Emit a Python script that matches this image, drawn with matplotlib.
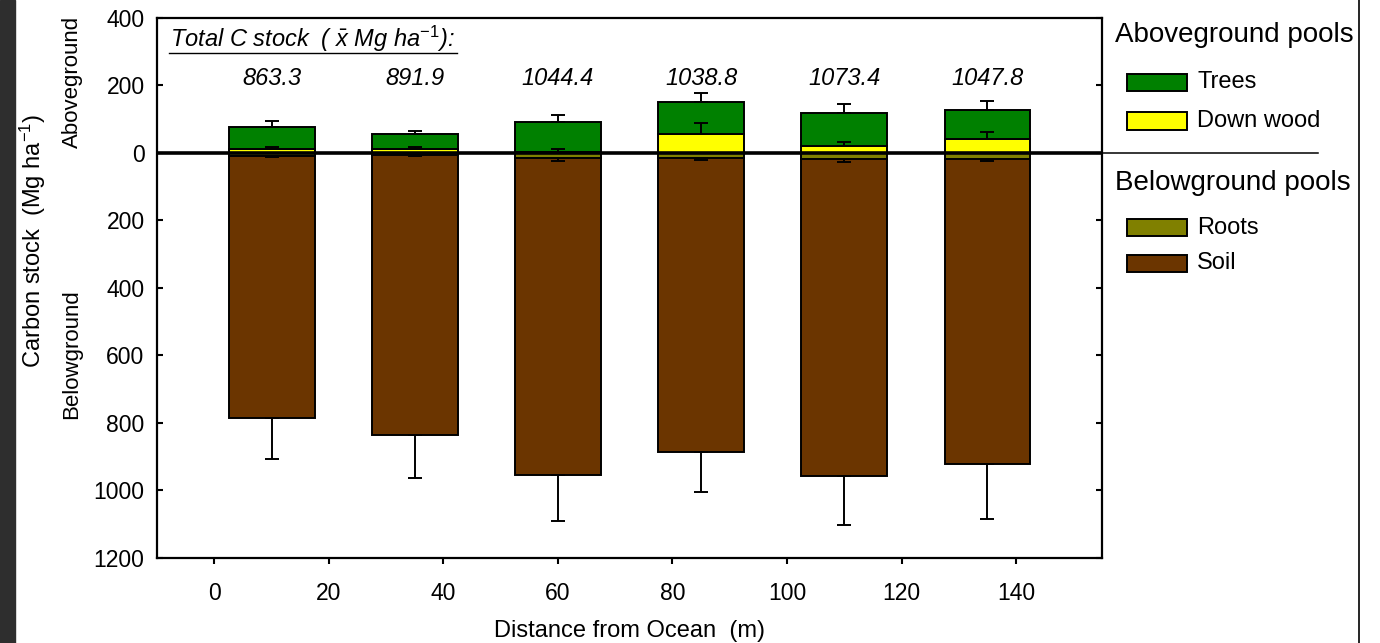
import numpy as np
import matplotlib
matplotlib.use("Agg")
import matplotlib.pyplot as plt
from matplotlib.patches import Rectangle
from matplotlib.lines import Line2D
from matplotlib.ticker import FuncFormatter

plt.rcParams['font.family'] = ['Liberation Sans', 'DejaVu Sans']
plt.rcParams['mathtext.fontset'] = 'custom'
plt.rcParams['mathtext.rm'] = 'Liberation Sans'
plt.rcParams['mathtext.it'] = 'Liberation Sans:italic'

# distance from ocean (bar centres, m)
distance = [10, 35, 60, 85, 110, 135]
# aboveground pools (Mg ha-1) and standard errors
trees = [64, 43, 88, 95, 97, 86]
trees_se = [18, 9, 22, 25, 26, 28]
down_wood = [13, 13, 3, 57, 21, 40]
down_wood_se = [6, 6, 8, 31, 11, 23]
# belowground pools
roots = [8, 5, 16, 16, 18, 17]
roots_se = [5, 3, 7, 5, 9, 6]
soil = [778, 831, 937, 871, 938, 905]
soil_se = [122, 128, 136, 116, 145, 162]
totals = ['863.3', '891.9', '1044.4', '1038.8', '1073.4', '1047.8']

colors = {'Trees': '#008000', 'Down wood': '#FFFF00',
          'Roots': '#808000', 'Soil': '#6B3500'}

W, H = 1380, 643


def fx(x):
    return x / W


def fy(y):
    return 1 - y / H


fig = plt.figure(figsize=(13.8, 6.43), dpi=100)
ax = fig.add_axes([fx(157), fy(558), fx(1102) - fx(157), (558 - 18) / H])

x = np.array(distance)
tr = np.array(trees)
dw = np.array(down_wood)
rt = np.array(roots)
so = np.array(soil)
width = 15
bar_kw = dict(width=width, edgecolor='black', linewidth=1.4, zorder=2)

ax.bar(x, dw, color=colors['Down wood'], **bar_kw)
ax.bar(x, tr, bottom=dw, color=colors['Trees'], **bar_kw)
ax.bar(x, -rt, color=colors['Roots'], **bar_kw)
ax.bar(x, -so, bottom=-rt, color=colors['Soil'], **bar_kw)

err_kw = dict(fmt='none', ecolor='black', elinewidth=1.4, capsize=4.8,
              capthick=1.4, zorder=3)
zeros = np.zeros(len(x))
ax.errorbar(x, dw, yerr=[zeros, down_wood_se], **err_kw)
ax.errorbar(x, dw + tr, yerr=[zeros, trees_se], **err_kw)
ax.errorbar(x, -rt, yerr=[roots_se, zeros], **err_kw)
ax.errorbar(x, -(rt + so), yerr=[soil_se, zeros], **err_kw)

ax.axhline(0, color='black', lw=2.6, zorder=4)

for xi, t in zip(x, totals):
    ax.text(xi, 222, t, ha='center', va='center', fontsize=17, style='italic')

ax.set_xlim(-10, 155)
ax.set_ylim(-1200, 400)
ax.set_xticks(np.arange(0, 141, 20))
ax.set_yticks(np.arange(-1200, 401, 200))
ax.yaxis.set_major_formatter(FuncFormatter(lambda v, p: f'{abs(v):.0f}'))
ax.tick_params(axis='x', direction='out', length=4, width=1.5, pad=13,
               labelsize=16.5)
ax.tick_params(axis='y', direction='in', length=4.5, width=1.5, pad=9,
               labelsize=16.5, right=True)
for s in ax.spines.values():
    s.set_linewidth(1.6)

# header text with underline
fig.text(fx(170), fy(47), r'Total C stock  ( $\bar{x}$ Mg ha$^{-1}$):',
         fontsize=17, style='italic', ha='left', va='baseline')
fig.add_artist(Line2D([fx(169), fx(457)], [fy(53), fy(53)], color='black', lw=1))

# axis labels
fig.text(0.5 * (fx(157) + fx(1102)), fy(637), 'Distance from Ocean  (m)',
         fontsize=17, ha='center', va='baseline')
fig.text(fx(33), fy(241), r'Carbon stock  (Mg ha$^{-1}$)', fontsize=17,
         rotation=90, ha='center', va='center')
fig.text(fx(72), fy(82), 'Aboveground', fontsize=16, rotation=90,
         ha='center', va='center')
fig.text(fx(72), fy(354), 'Belowground', fontsize=16, rotation=90,
         ha='center', va='center')

# legend drawn by hand: two groups split by a line
fig.add_artist(Line2D([fx(1102), fx(1318)], [fy(153), fy(153)], color='black', lw=1.1))
headers = [('Aboveground pools', 35), ('Belowground pools', 183)]
for label, yc in headers:
    fig.text(fx(1115), fy(yc), label, fontsize=20, ha='left', va='center')
items = [('Trees', 82.5), ('Down wood', 121), ('Roots', 227.5), ('Soil', 263.5)]
for label, yc in items:
    fig.add_artist(Rectangle((fx(1127), fy(yc + 8.5)), fx(60), 17 / H,
                             facecolor=colors[label], edgecolor='black', lw=1.4,
                             transform=fig.transFigure))
    fig.text(fx(1197), fy(yc), label, fontsize=17, ha='left', va='center')

# dark strip at left edge and frame line at right
fig.add_artist(Rectangle((0, 0), fx(15), 1, color='#2E2E2E',
                         transform=fig.transFigure))
fig.add_artist(Line2D([fx(1359), fx(1359)], [0, 1], color='black', lw=1.2))

fig.savefig('out.png', dpi=100)
